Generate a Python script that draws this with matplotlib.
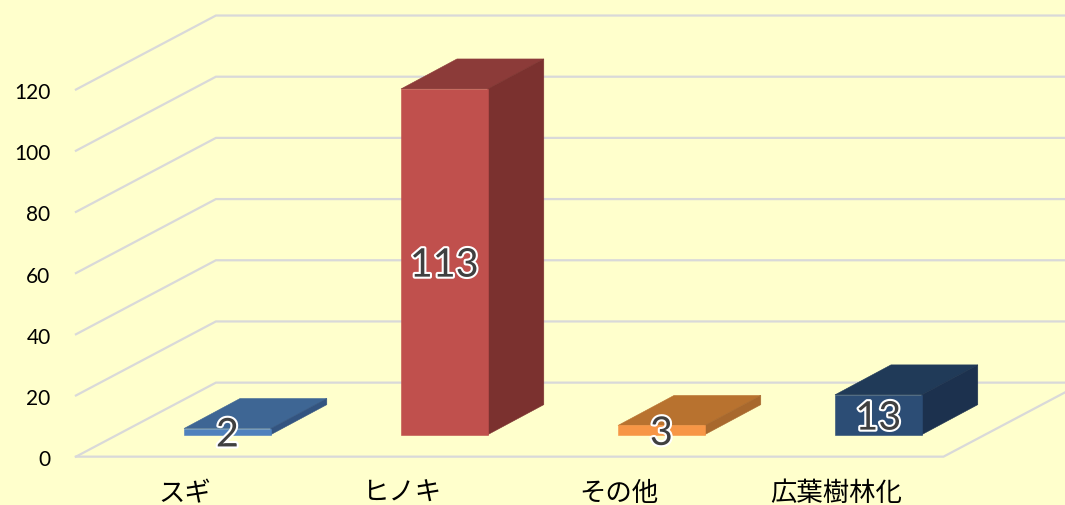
import matplotlib
matplotlib.use('Agg')
import matplotlib.pyplot as plt
import matplotlib.patheffects as pe

categories = ['スギ', 'ヒノキ', 'その他', '広葉樹林化']
values = [2, 113, 3, 13]
y_ticks = [0, 20, 40, 60, 80, 100, 120]

front_colors = ['#4F81BD', '#C0504D', '#F79646', '#2C4D75']
top_colors = ['#3E6694', '#8C3B39', '#B8722F', '#203A58']
side_colors = ['#335480', '#7B312F', '#A8682D', '#1C314E']

BG = '#FFFFCC'
GRID = '#D9D9D9'

# la vista 3D e' una semplice proiezione obliqua, in unita' di categoria / valore
BAR_W = 0.40
BAR_DX, BAR_DY = 0.258, 9.8      # profondita' della barra
WALL_X = -0.053                  # parete di fondo, lato sinistro
FRONT_X = -0.698                 # bordo anteriore sinistro
FLOOR_DX, FLOOR_DY = 0.645, 24.2 # profondita' del pavimento
BASE_Y = -7.2                    # bordo anteriore del pavimento rispetto alla base barre
RIGHT_X = 3.30                   # bordo anteriore destro

fig = plt.figure(figsize=(10.65, 5.06), dpi=100, facecolor=BG)
ax = fig.add_axes([0, 0, 1, 1])
ax.set_xlim(-1.048, 3.860)
ax.set_ylim(-23.0, 142.4)
ax.axis('off')

# griglia su parete laterale e di fondo
for v in y_ticks:
    ax.plot([FRONT_X, WALL_X, 3.86 + 1], [v + BASE_Y, v + BASE_Y + FLOOR_DY, v + BASE_Y + FLOOR_DY],
            color=GRID, lw=1.6, solid_joinstyle='miter', zorder=1)
    ax.text(-0.815, v + BASE_Y - 0.8, str(v), ha='right', va='center', fontsize=15,
            family=['Lato', 'DejaVu Sans'], color='#000000')

# pavimento
ax.plot([FRONT_X, RIGHT_X, RIGHT_X + FLOOR_DX], [BASE_Y, BASE_Y, BASE_Y + FLOOR_DY],
        color=GRID, lw=1.6, solid_joinstyle='miter', zorder=1)

for i, (name, val) in enumerate(zip(categories, values)):
    x0, x1 = i - BAR_W / 2, i + BAR_W / 2
    # bordo sottile dello stesso colore: evita le fessure chiare tra le facce
    ax.fill([x0, x1, x1 + BAR_DX, x0 + BAR_DX], [val, val, val + BAR_DY, val + BAR_DY],
            color=top_colors[i], lw=0.4, zorder=3)
    ax.fill([x1, x1 + BAR_DX, x1 + BAR_DX, x1], [0, BAR_DY, val + BAR_DY, val],
            color=side_colors[i], lw=0.4, zorder=3)
    ax.fill([x0, x1, x1, x0], [0, 0, val, val], color=front_colors[i], lw=0.4, zorder=3)
    ax.text(i, val / 2 - 1.1, str(val), ha='center', va='center', fontsize=28.5,
            family=['Lato', 'DejaVu Sans'], color='#404040', zorder=5,
            path_effects=[pe.withStroke(linewidth=3, foreground='white')])
    ax.text(i - 0.195, -19.0, name, ha='center', va='center', fontsize=19,
            family=['Noto Sans CJK JP', 'DejaVu Sans'], color='#000000')

fig.savefig('out.png', dpi=100, facecolor=BG)
